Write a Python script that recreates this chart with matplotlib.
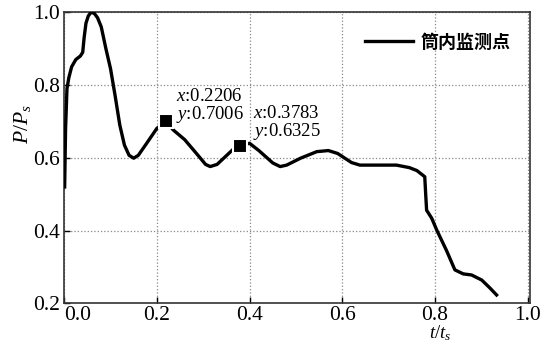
import matplotlib
matplotlib.use("Agg")
import matplotlib.pyplot as plt

plt.rcParams['font.family'] = ['Liberation Serif', 'Noto Sans CJK SC']
plt.rcParams['mathtext.fontset'] = 'custom'
plt.rcParams['mathtext.it'] = 'Liberation Serif:italic'
plt.rcParams['mathtext.rm'] = 'Liberation Serif'

# pressure curve
t = [0.001, 0.003, 0.006, 0.010, 0.016, 0.025, 0.035, 0.040, 0.043, 0.047,
     0.052, 0.058, 0.065, 0.072, 0.080, 0.090, 0.100, 0.110, 0.120, 0.130,
     0.140, 0.150, 0.160, 0.178, 0.200, 0.2206, 0.235, 0.260, 0.290, 0.305,
     0.315, 0.330, 0.350, 0.365, 0.3783, 0.400, 0.420, 0.450, 0.466, 0.480,
     0.510, 0.545, 0.570, 0.590, 0.620, 0.638, 0.717, 0.745, 0.761, 0.778,
     0.780, 0.782, 0.793, 0.804, 0.825, 0.843, 0.861, 0.879, 0.901, 0.918,
     0.933]
p = [0.520, 0.680, 0.790, 0.820, 0.850, 0.870, 0.880, 0.890, 0.930, 0.970,
     0.990, 1.000, 0.997, 0.985, 0.960, 0.900, 0.845, 0.770, 0.690, 0.635,
     0.607, 0.599, 0.607, 0.640, 0.681, 0.7006, 0.677, 0.650, 0.605, 0.582,
     0.576, 0.582, 0.606, 0.624, 0.6325, 0.640, 0.620, 0.586, 0.576, 0.580,
     0.599, 0.617, 0.620, 0.612, 0.587, 0.580, 0.580, 0.573, 0.565, 0.548,
     0.500, 0.456, 0.434, 0.401, 0.345, 0.292, 0.281, 0.278, 0.264, 0.243,
     0.223]

mark_t = [0.2206, 0.3783]
mark_p = [0.7006, 0.6325]
label_pos = [(0.241, 0.768), (0.407, 0.722)]

xticks = [0.0, 0.2, 0.4, 0.6, 0.8, 1.0]
yticks = [0.2, 0.4, 0.6, 0.8, 1.0]

fig = plt.figure(figsize=(5.43, 3.42), dpi=100)
ax = fig.add_axes([0.1182, 0.113, 0.8578, 0.851])

ax.plot(t, p, color='black', linewidth=2.4, label='筒内监测点', zorder=3)
ax.plot(mark_t, mark_p, linestyle='none', marker='s', markersize=10,
        markerfacecolor='black', markeredgecolor='white', markeredgewidth=1.5,
        zorder=4)

for (mx, my), (lx, ly) in zip(zip(mark_t, mark_p), label_pos):
    ax.text(lx, ly, f'$x$:{mx:.4f}', fontsize=13.5, va='center', ha='left')
    ax.text(lx, ly - 0.05, f'$y$:{my:.4f}', fontsize=13.5, va='center', ha='left')

ax.set_xlim(0.0, 1.005)
ax.set_ylim(0.2, 1.0)
ax.set_xticks(xticks)
ax.set_yticks(yticks)
ax.set_xticklabels([f'{v:.1f}' for v in xticks])
ax.set_yticklabels([f'{v:.1f}' for v in yticks])
ax.get_xticklabels()[0].set_horizontalalignment('left')
ax.tick_params(direction='in', length=4, width=1, labelsize=15.5, pad=3)
ax.tick_params(axis='x', pad=2)

ax.grid(True, linestyle=':', color='#888888', linewidth=0.9)
for s in ax.spines.values():
    s.set_linewidth(1.2)
    s.set_color('#333333')

ax.set_xlabel('$t/t_s$', fontsize=13.5)
ax.set_ylabel('$P/P_s$', fontsize=15.5)
ax.xaxis.set_label_coords(0.807, -0.068)
ax.yaxis.set_label_coords(-0.067, 0.616)

leg = ax.legend(loc='center left', bbox_to_anchor=(0.646, 0.898), frameon=False,
                borderaxespad=0, borderpad=0, handlelength=2.67, handletextpad=0.4,
                prop={'family': 'Noto Sans CJK SC', 'size': 13, 'weight': 'bold'})

fig.savefig('out.png', dpi=100)
